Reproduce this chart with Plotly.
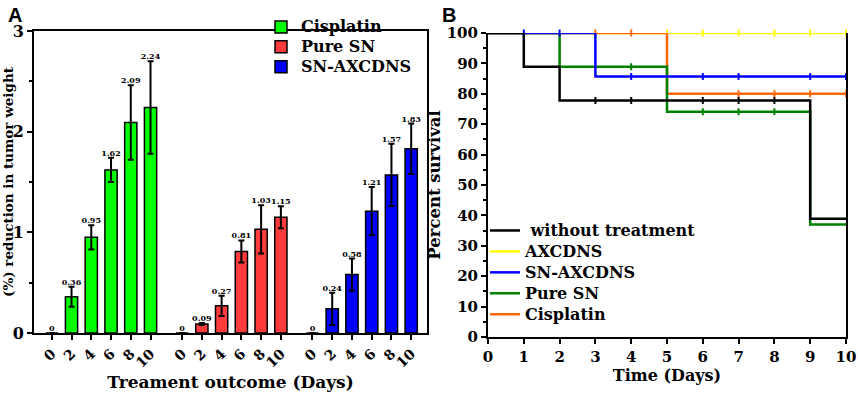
import numpy as np
import plotly.graph_objects as go

# ---------------- Data ----------------
days = [0, 2, 4, 6, 8, 10]
groups = ["Cisplatin", "Pure SN", "SN-AXCDNS"]
cisplatin_vals = [0, 0.36, 0.95, 1.62, 2.09, 2.24]
cisplatin_err = [0, 0.10, 0.12, 0.12, 0.37, 0.46]
puresn_vals = [0, 0.09, 0.27, 0.81, 1.03, 1.15]
puresn_err = [0, 0.01, 0.10, 0.11, 0.24, 0.11]
snax_vals = [0, 0.24, 0.58, 1.21, 1.57, 1.83]
snax_err = [0, 0.16, 0.16, 0.24, 0.31, 0.25]

surv_names = [" without treatment", "AXCDNS", "SN-AXCDNS", "Pure SN", "Cisplatin"]
without_t = [0, 1, 2, 9, 10]
without_s = [100, 88.9, 77.8, 38.9, 38.9]
without_c = [3, 4, 6, 7, 8]
axcdns_t = [0, 10]
axcdns_s = [100, 100]
axcdns_c = [5, 6, 7, 8, 9, 10]
snax_t = [0, 3, 10]
snax_s = [100, 85.7, 85.7]
snax_c = [1, 2, 4, 6, 7, 9, 10]
puresn_t = [0, 2, 5, 9, 10]
puresn_s = [100, 88.9, 74.1, 37.0, 37.0]
puresn_c = [4, 6, 7, 8]
cis_t = [0, 5, 10]
cis_s = [100, 80, 80]
cis_c = [3, 4, 7, 8, 9, 10]

# ---------------- Styles ----------------
SERIF = "DejaVu Serif"
bar_colors = ["#00ff00", "#ff3b3b", "#0000ff"]
surv_colors = ["#000000", "#ffff00", "#0000ff", "#008000", "#ff6600"]
GROUP_GAP = 6.6


def big(txt, size):
    return f'<span style="font-size:{size}px">{txt}</span>'


fig = go.Figure()

# ---------------- Panel A ----------------
series_vals = [cisplatin_vals, puresn_vals, snax_vals]
series_err = [cisplatin_err, puresn_err, snax_err]
tickvals, ticktext = [], []
for g, (name, vals, errs, col) in enumerate(zip(groups, series_vals, series_err, bar_colors)):
    xs = [g * GROUP_GAP + i for i in range(len(days))]
    tickvals += xs
    ticktext += [str(d) for d in days]
    fig.add_trace(go.Bar(
        x=xs, y=vals, name=big(name, 16), width=0.62,
        marker=dict(color=col, line=dict(color="black", width=1.5)),
        error_y=dict(type="data", array=errs, color="black", thickness=2, width=3),
        xaxis="x", yaxis="y", legend="legend",
    ))
    fig.add_trace(go.Scatter(
        x=xs, y=[v + e for v, e in zip(vals, errs)], mode="text",
        text=[f"{v:g}" for v in vals], textposition="top center",
        textfont=dict(family=SERIF, size=8, color="black", weight="bold"),
        showlegend=False, xaxis="x", yaxis="y", cliponaxis=False,
    ))

# ---------------- Panel B ----------------
def step_value(t, s, x):
    idx = np.searchsorted(np.array(t), x, side="right") - 1
    return np.array(s)[idx]

surv = [
    (without_t, without_s, without_c),
    (axcdns_t, axcdns_s, axcdns_c),
    (snax_t, snax_s, snax_c),
    (puresn_t, puresn_s, puresn_c),
    (cis_t, cis_s, cis_c),
]
draw_order = [1, 4, 3, 2, 0]  # bottom to top
for k in draw_order:
    t, s, c = surv[k]
    col = surv_colors[k]
    fig.add_trace(go.Scatter(
        x=t, y=s, mode="lines", line=dict(color=col, width=2.5, shape="hv"),
        name=big(surv_names[k], 16), legendrank=k + 1, legend="legend2",
        xaxis="x2", yaxis="y2", cliponaxis=False,
    ))
    fig.add_trace(go.Scatter(
        x=c, y=step_value(t, s, c), mode="markers",
        marker=dict(symbol="line-ns", size=5, line=dict(color=col, width=2)),
        showlegend=False, xaxis="x2", yaxis="y2", cliponaxis=False,
    ))

W, H = 858, 397
axis_common = dict(showline=True, linecolor="black", linewidth=2, ticks="outside",
                   tickwidth=2, tickcolor="black", showgrid=False, zeroline=False,
                   automargin=False)

fig.update_layout(
    width=W, height=H, margin=dict(l=0, r=0, t=0, b=0),
    paper_bgcolor="white", plot_bgcolor="white",
    font=dict(family=SERIF, color="black"),
    barmode="overlay",
    xaxis=dict(domain=[34 / W, 427 / W], range=[-0.9, 19.0], tickvals=tickvals,
               ticktext=ticktext, tickangle=-45, ticklen=5, mirror=True,
               tickfont=dict(family=SERIF, size=14, weight="bold"),
               title=dict(text="Treament outcome (Days)", standoff=6,
                          font=dict(family=SERIF, size=17, weight="bold")),
               anchor="y", **axis_common),
    yaxis=dict(domain=[64 / H, 366 / H], range=[0, 3], tickvals=[0, 1, 2, 3], ticklen=5,
               minor=dict(dtick=0.5, ticks="outside", ticklen=3, tickwidth=2, tickcolor="black"),
               mirror=True, tickfont=dict(family=SERIF, size=16, weight="bold"),
               title=dict(text="(%) reduction in tumor weight", standoff=3,
                          font=dict(family=SERIF, size=13.5, weight="bold")),
               anchor="x", **axis_common),
    xaxis2=dict(domain=[488 / W, 846 / W], range=[0, 10], dtick=1, ticklen=5,
                tickfont=dict(family=SERIF, size=15, weight="bold"),
                title=dict(text="Time (Days)", standoff=2,
                           font=dict(family=SERIF, size=16, weight="bold")),
                anchor="y2", **axis_common),
    yaxis2=dict(domain=[60 / H, 364 / H], range=[0, 100], dtick=10, ticklen=5,
                minor=dict(dtick=5, ticks="outside", ticklen=3, tickwidth=2, tickcolor="black"),
                mirror=True, tickfont=dict(family=SERIF, size=15, weight="bold"),
                title=dict(text="Percent survival", standoff=2,
                           font=dict(family=SERIF, size=16.5, weight="bold")),
                anchor="x2", **axis_common),
    legend=dict(x=261 / W, y=1 - 12 / H, xanchor="left", yanchor="top",
                bgcolor="rgba(0,0,0,0)", tracegroupgap=0,
                font=dict(family=SERIF, size=13, weight="bold")),
    legend2=dict(x=485 / W, y=1 - 215 / H, xanchor="left", yanchor="top",
                 bgcolor="rgba(0,0,0,0)", tracegroupgap=0, itemwidth=30,
                 font=dict(family=SERIF, size=13.8, weight="bold")),
    annotations=[
        dict(text="A", x=6 / W, y=1 - 2 / H, xref="paper", yref="paper",
             xanchor="left", yanchor="top", showarrow=False,
             font=dict(family="Liberation Sans", size=20, weight="bold")),
        dict(text="B", x=440 / W, y=1 - 2 / H, xref="paper", yref="paper",
             xanchor="left", yanchor="top", showarrow=False,
             font=dict(family="Liberation Sans", size=20, weight="bold")),
    ],
)

fig.write_html("out.html", config={"displayModeBar": False},
               post_script="document.body.style.margin='0';")
